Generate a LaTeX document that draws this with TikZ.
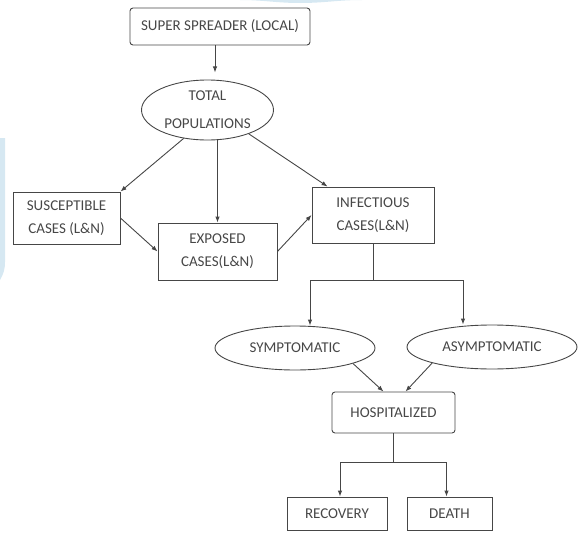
\documentclass[tikz,border=0pt]{standalone}
\usepackage{fontspec}
\setmainfont{Carlito}
\usetikzlibrary{arrows.meta,shapes.geometric,positioning}

\definecolor{paleblue}{RGB}{214,232,242}
\definecolor{inkgray}{RGB}{70,70,70}

\begin{document}
\begin{tikzpicture}[x=1pt,y=-1pt,>={Latex[length=6pt,width=4.5pt]},
    line width=0.9pt,draw=inkgray,
    every node/.style={font=\fontsize{15}{23}\selectfont,text=black!72,align=center,inner sep=0pt},
    cbox/.style={draw=inkgray,rectangle},
    roundbox/.style={draw=inkgray,rectangle,rounded corners=3pt},
    oval/.style={draw=inkgray,ellipse}]
  \useasboundingbox (0,0) rectangle (579,533);
  % faint background marks
  \fill[paleblue] (0,138) -- (5,138) -- (5,262) to[out=-90,in=60] (0,280) -- cycle;
  \fill[paleblue] (240,0) -- (362,0) to[out=180,in=0] (300,3) to[out=180,in=0] (240,0) -- cycle;

  \node[roundbox,minimum width=180,minimum height=37] (spreader) at (220,26.5) {SUPER SPREADER (LOCAL)};
  \node[oval,minimum width=132,minimum height=60,font=\fontsize{15}{28}\selectfont] (total) at (207.5,110) {TOTAL\\POPULATIONS};
  \node[cbox,minimum width=107,minimum height=52] (suscept) at (66.5,218) {SUSCEPTIBLE\\CASES (L\&N)};
  \node[cbox,minimum width=119,minimum height=57] (exposed) at (217.5,251.5) {EXPOSED\\CASES(L\&N)};
  \node[cbox,minimum width=122,minimum height=56] (infect) at (373,215) {INFECTIOUS\\CASES(L\&N)};
  \node[oval,minimum width=160,minimum height=44] (symp) at (295,348) {SYMPTOMATIC};
  \node[oval,minimum width=170,minimum height=44] (asymp) at (492,347) {ASYMPTOMATIC};
  \node[roundbox,minimum width=123,minimum height=41] (hosp) at (393.5,412.5) {HOSPITALIZED};
  \node[cbox,minimum width=100,minimum height=33] (recov) at (337,513.5) {RECOVERY};
  \node[cbox,minimum width=85,minimum height=33] (death) at (449.5,513.5) {DEATH};

  \draw[->] ([xshift=-5pt]spreader.south) -- ++(0,27);
  \draw[->] (total.230) -- (suscept.north east);
  \draw[->] (total.south -| exposed.north) -- (exposed.north);
  \draw[->] (total.-30) -- ([xshift=16pt]infect.north west);
  \draw[->] (suscept.east) -- (exposed.west);
  \draw[->] (exposed.east) -- (infect.west);

  \draw (infect.south) -- ++(0,37) coordinate (fork);
  \draw[->] (fork) -| ([xshift=15pt]symp.north);
  \draw[->] (fork) -| ([xshift=-29pt]asymp.north);

  \draw[->] (symp.-15) -- ([xshift=-10pt]hosp.north);
  \draw[->] (asymp.195) -- ([xshift=12pt]hosp.north);

  \draw (hosp.south) -- ++(0,29) coordinate (split);
  \draw[->] (split) -| ([xshift=3pt]recov.north);
  \draw[->] (split) -| ([xshift=-3pt]death.north);
\end{tikzpicture}
\end{document}
